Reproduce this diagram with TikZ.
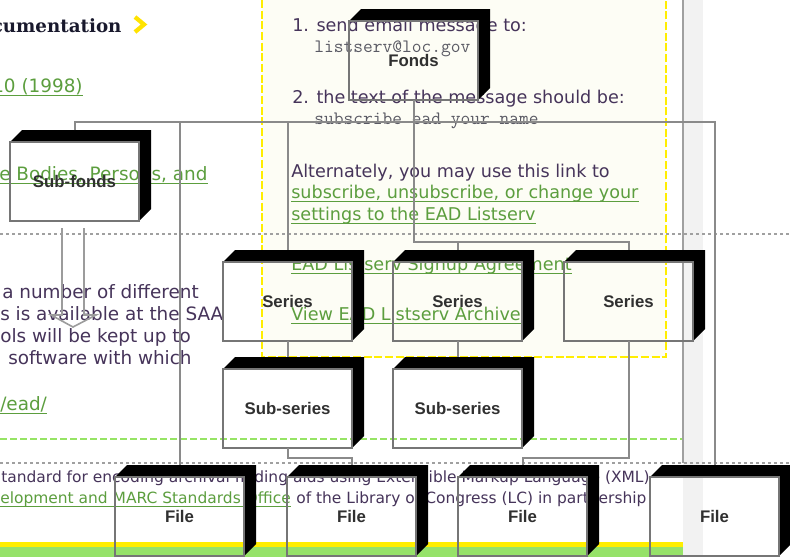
\documentclass[tikz,border=0pt]{standalone}
\usepackage{fontspec}
\setmainfont{DejaVu Sans}
\newfontfamily\hdfont{DejaVu Serif}
\newfontfamily\lblfont{Liberation Sans}
\definecolor{cream}{RGB}{253,253,245}
\definecolor{bandgray}{RGB}{242,242,242}
\definecolor{dotgray}{RGB}{160,160,160}
\definecolor{greendash}{RGB}{150,228,100}
\definecolor{yel}{RGB}{255,238,0}
\definecolor{bandgreen}{RGB}{150,226,105}
\definecolor{bodytxt}{RGB}{70,52,90}
\definecolor{linkgreen}{RGB}{92,158,62}
\definecolor{monotxt}{RGB}{90,90,100}
\definecolor{hdtxt}{RGB}{25,25,45}
\definecolor{boxgray}{RGB}{118,118,118}
\definecolor{conngray}{RGB}{138,138,138}
\definecolor{lbltxt}{RGB}{48,48,48}
\newcommand\archbox[4]{%
  \fill[black] (#2,#3) -- ++(12,-12) -- ++(129,0) -- ++(0,79) -- ++(-12,12) -- ++(0,-79) -- cycle;
  \node[frontbox] (#1) at (#2+64.5,#3+39.5) {#4};
}
\newcommand\linkul[1]{\draw[linkgreen, line width=0.8pt] ([yshift=-2.3pt]#1.base west) -- ([yshift=-2.3pt]#1.base east);}
\begin{document}
\begin{tikzpicture}[x=0.75pt,y=-0.75pt,
  body/.style={font=\fontsize{13.2}{15}\selectfont, text=bodytxt, anchor=base west, inner sep=0pt},
  lbody/.style={font=\fontsize{13.8}{15}\selectfont, text=bodytxt, anchor=base west, inner sep=0pt},
  small/.style={font=\fontsize{11.6}{13}\selectfont, text=bodytxt, anchor=base west, inner sep=0pt},
  mono/.style={font=\fontsize{14.2}{16}\selectfont\ttfamily, text=monotxt, anchor=base west, inner sep=0pt},
  link/.style={body, text=linkgreen},
  llink/.style={lbody, text=linkgreen},
  smalllink/.style={small, text=linkgreen},
  frontbox/.style={draw=boxgray, line width=1.3pt, minimum width=96.75pt, minimum height=59.25pt, inner sep=0pt, outer sep=0pt, font=\lblfont\bfseries\fontsize{12.6}{14}\selectfont, text=lbltxt},
  conn/.style={draw=conngray, line width=1.5pt},
  dotline/.style={draw=dotgray, line width=1.3pt, dash pattern=on 2.5pt off 2pt},
]
\useasboundingbox (0,0) rectangle (790,557);
\clip (0,0) rectangle (790,557);
% ---------- web page background ----------
\fill[white] (0,0) rectangle (790,557);
\fill[cream] (262,-5) rectangle (666,357);
\fill[bandgray] (683,0) rectangle (703,557);
\fill[yel] (0,542) rectangle (683,547);
\fill[bandgreen] (0,547) rectangle (683,557);
\draw[yel, line width=2pt, dash pattern=on 6pt off 2pt] (262,0) -- (262,357) -- (666,357) -- (666,0);
\draw[dotline] (0,234) -- (790,234);
\draw[dotline] (0,463) -- (790,463);
\draw[greendash, line width=1.5pt, dash pattern=on 5pt off 2.5pt] (0,439) -- (682,439);
\draw[dotgray, line width=0.8pt] (683,0) -- (683,463);
% ---------- web page text ----------
\node[anchor=base west, inner sep=0pt, font=\hdfont\bfseries\fontsize{13.7}{16}\selectfont, text=hdtxt] (hd) at (-8.5,32) {cumentation};
\draw[yel!90!orange, line width=3.2pt, miter limit=10] (135,17) -- (144,24.5) -- (135,32);
\node[llink] (l1) at (-8,92) {10 (1998)}; \linkul{l1}
\node[llink] (l2) at (-1,180) {e Bodies, Persons, and}; \linkul{l2}
\node[lbody] (t1) at (2,298) {a number of different};
\node[lbody] (t2) at (0,320) {s is available at the SAA};
\node[lbody] (t3) at (0,342) {ols will be kept up to};
\node[lbody] (t4) at (8,364) {software with which};
\node[llink] (l3) at (0,410) {/ead/}; \linkul{l3}
\node[body] (c1) at (292,31) {1. send email message to:};
\node[mono] (c2) at (314,52) {listserv@loc.gov};
\node[body] (c3) at (292,103) {2. the text of the message should be:};
\node[mono] (c4) at (314,124) {subscribe ead your name};
\node[body] (c5) at (291,177) {Alternately, you may use this link to};
\node[link] (c6) at (291,198) {subscribe, unsubscribe, or change your}; \linkul{c6}
\node[link] (c7) at (291,220) {settings to the EAD Listserv}; \linkul{c7}
\node[link] (c8) at (291,270) {EAD Listserv Signup Agreement}; \linkul{c8}
\node[link] (c9) at (291,320) {View EAD Listserv Archive}; \linkul{c9}
\node[small] (b1) at (1,482) {tandard for encoding archival finding aids using Extensible Markup Language (XML)};
\node[smalllink] (b2) at (0,503) {elopment and MARC Standards Office}; \linkul{b2}
\node[small] (b3) at ([xshift=3.7pt]b2.base east) {of the Library of Congress (LC) in partnership};
% ---------- diagram ----------
\coordinate (busA) at (0,122);
\coordinate (busB) at (0,242);
\coordinate (busC) at (0,458);
\archbox{fonds}{349}{21}{Fonds}
\archbox{subfonds}{10}{142}{Sub-fonds}
\archbox{series1}{223}{262}{Series}
\archbox{series2}{393}{262}{Series}
\archbox{series3}{564}{262}{Series}
\archbox{subseries1}{223}{369}{Sub-series}
\archbox{subseries2}{393}{369}{Sub-series}
\archbox{file1}{115}{477}{File}
\archbox{file2}{287}{477}{File}
\archbox{file3}{458}{477}{File}
\archbox{file4}{650}{477}{File}
% connectors
\draw[conn] ([yshift=9pt]subfonds.north) -- (subfonds.north |- busA) -- (file4.north |- busA) -- ([yshift=9pt]file4.north);
\draw[conn] (file1.north |- busA) -- ([yshift=9pt]file1.north);
\draw[conn] (series1.north |- busA) -- ([yshift=9pt]series1.north);
\draw[conn] (fonds.south) -- (fonds.south |- busB) -| ([yshift=9pt]series3.north);
\draw[conn] (series2.north |- busB) -- ([yshift=9pt]series2.north);
\draw[conn] (series1.south) -- ([yshift=9pt]subseries1.north);
\draw[conn] (series2.south) -- ([yshift=9pt]subseries2.north);
\draw[conn] (series3.south) -- (series3.south |- busC) -| ([yshift=9pt]file3.north);
\draw[conn] (subseries1.south) -- (subseries1.south |- busC) -| ([yshift=9pt]file2.north);
% hollow arrow under Sub-fonds
\draw[draw=conngray!85, line width=1.2pt, line join=miter] (62,228) -- (62,315) -- (51,315) -- (73,327) -- (96,315) -- (84,315) -- (84,228);
\end{tikzpicture}
\end{document}
